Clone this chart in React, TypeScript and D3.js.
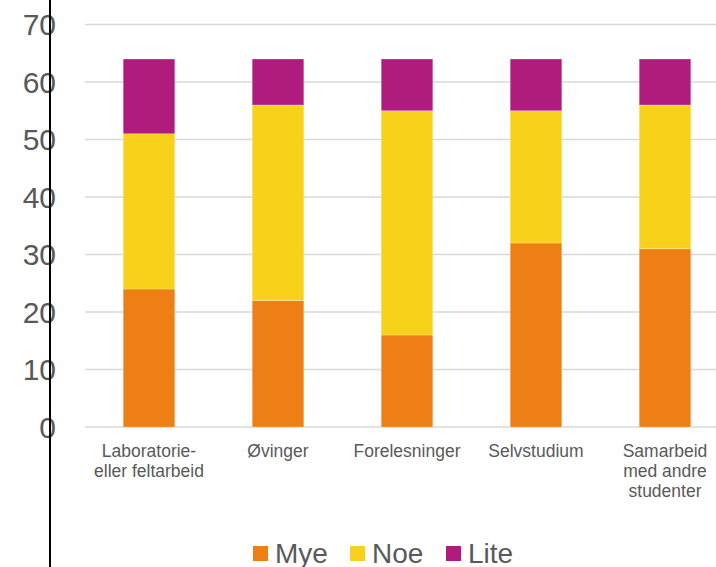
import React from "react";
import * as d3 from "d3";

const categories = [
  ["Laboratorie-", "eller feltarbeid"],
  ["Øvinger"],
  ["Forelesninger"],
  ["Selvstudium"],
  ["Samarbeid", "med andre", "studenter"],
];
const seriesNames = ["Mye", "Noe", "Lite"];
const mye = [24, 22, 16, 32, 31];
const noe = [27, 34, 39, 23, 25];
const lite = [13, 8, 9, 9, 8];
const yTicks = [0, 10, 20, 30, 40, 50, 60, 70];
const colors = ["#EE7F14", "#F7D11A", "#B01B7E"];

export default function App() {
  const W = 716;
  const H = 567;
  const keys = categories.map((c) => c.join(" "));
  const x = d3.scaleBand().domain(keys).range([84.5, 729.5]).paddingInner(0.6).paddingOuter(0.3);
  const y = d3.scaleLinear().domain([0, 70]).range([427, 24.5]);
  const rows = keys.map((k, i) => ({ key: k, Mye: mye[i], Noe: noe[i], Lite: lite[i] }));
  const stack = d3.stack<any>().keys(seriesNames)(rows);
  const textColor = "#595959";
  const font = "'Liberation Sans', Arial, sans-serif";
  const legendX = [253, 350, 446];
  return (
    <svg width={W} height={H} style={{ position: "absolute", left: 0, top: 0, background: "#fff" }} fontFamily={font}>
      {yTicks.map((t) => (
        <line key={"g" + t} x1={85} x2={W} y1={y(t)} y2={y(t)} stroke="#D9D9D9" strokeWidth={1.5} />
      ))}
      {stack.map((s, si) => (
        <g key={seriesNames[si]} fill={colors[si]}>
          {s.map((d, i) => (
            <rect
              key={i}
              x={x(keys[i])}
              width={x.bandwidth()}
              y={y(d[1])}
              height={y(d[0]) - y(d[1])}
              stroke="#fff"
              strokeOpacity={0.35}
              strokeWidth={0.75}
            />
          ))}
        </g>
      ))}
      {yTicks.map((t) => (
        <text key={"t" + t} x={56} y={y(t)} dy="0.35em" textAnchor="end" fontSize={30} fill={textColor}>
          {t}
        </text>
      ))}
      <line x1={50} x2={50} y1={0} y2={H} stroke="#000" strokeWidth={2} />
      {categories.map((lines, i) => (
        <text key={"c" + i} textAnchor="middle" fontSize={17.5} fill={textColor}>
          {lines.map((l, j) => (
            <tspan key={j} x={(x(keys[i]) as number) + x.bandwidth() / 2} y={456.5 + j * 20}>
              {l}
            </tspan>
          ))}
        </text>
      ))}
      {seriesNames.map((n, i) => (
        <g key={"l" + n}>
          <rect x={legendX[i]} y={546} width={15} height={15} fill={colors[i]} />
          <text x={legendX[i] + 22} y={562.5} fontSize={28} fill={textColor}>
            {n}
          </text>
        </g>
      ))}
    </svg>
  );
}
